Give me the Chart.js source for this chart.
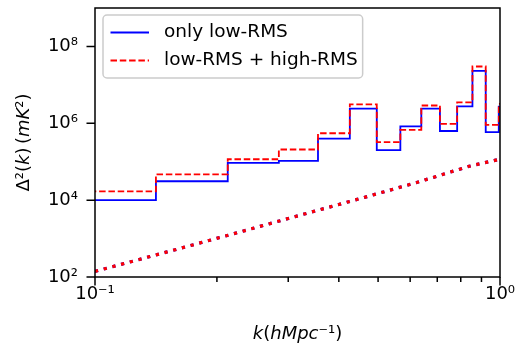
<!DOCTYPE html>
<html>
<head>
<meta charset="utf-8">
<script src="https://cdn.jsdelivr.net/npm/chart.js@4.4.0/dist/chart.umd.min.js"></script>
<style>
    html, body { margin: 0; padding: 0; background: #fff; }
    #chart { display: block; }
</style>
</head>
<body>
<canvas id="chart" width="517" height="347"></canvas>
<script>
// k bin edges (h/Mpc), the last one closes the final bin
const kEdges = [0.0707, 0.1414, 0.2127, 0.2844, 0.3553, 0.4258, 0.4963, 0.5675, 0.6393, 0.7107, 0.7838, 0.855, 0.922, 0.993, 1.064];
// power spectrum per bin (mK^2)
const onlyLowRms = [1.0e4, 3.1e4, 9.3e4, 1.05e5, 4.0e5, 2.4e6, 2.0e5, 8.3e5, 2.4e6, 6.3e5, 2.76e6, 2.3e7, 5.9e5, 2.7e6];
const lowPlusHighRms = [1.7e4, 4.7e4, 1.16e5, 2.08e5, 5.5e5, 3.1e6, 3.25e5, 6.7e5, 2.9e6, 9.6e5, 3.5e6, 3.0e7, 9.1e5, 3.2e6];
// noise level curves (dotted)
const kNoise = [0.1, 0.15, 0.217, 0.3, 0.46, 0.623, 0.839, 0.985];
const noiseLowRms = [140, 443, 1285, 3330, 1.16e4, 2.88e4, 7.6e4, 1.12e5];
const noiseLowPlusHighRms = [140, 443, 1285, 3330, 1.16e4, 2.88e4, 7.6e4, 1.12e5];

const xMajorTicks = [0.1, 1];
const xMinorTicks = [0.2, 0.3, 0.4, 0.5, 0.6, 0.7, 0.8, 0.9];
const yMajorTicks = [1e2, 1e4, 1e6, 1e8];
const legendLabels = ['only low-RMS', 'low-RMS + high-RMS'];

const FONT = '"DejaVu Sans", sans-serif';
const SUP = { '0': '\u2070', '1': '\u00b9', '2': '\u00b2', '3': '\u00b3', '4': '\u2074', '5': '\u2075', '6': '\u2076', '7': '\u2077', '8': '\u2078', '9': '\u2079', '-': '\u207b' };

const powerLabel = (value) => {
    const exp = Math.round(Math.log10(value)).toString();
    return '10' + exp.split('').map((c) => SUP[c]).join('');
};

const stepPoints = (values) => kEdges.map((k, i) => ({ x: k, y: values[Math.min(i, values.length - 1)] }));
const curvePoints = (values) => kNoise.map((k, i) => ({ x: k, y: values[i] }));

// fixed axis sizes, no extra label padding so the plot box lands where it should
const fixSize = (prop, size) => (scale) => {
    scale[prop] = size;
    scale.paddingTop = 0;
    scale.paddingBottom = 0;
    scale.paddingLeft = 0;
    scale.paddingRight = 0;
};

// draws a label made of plain / italic pieces, centred on (x, y)
const drawRich = (ctx, pieces, x, y, rotate) => {
    ctx.save();
    ctx.translate(x, y);
    if (rotate) ctx.rotate(-Math.PI / 2);
    ctx.textBaseline = 'middle';
    ctx.textAlign = 'left';
    ctx.fillStyle = '#000';
    let total = 0;
    pieces.forEach((p) => {
        ctx.font = (p[1] ? 'italic ' : '') + '18px ' + FONT;
        total += ctx.measureText(p[0]).width;
    });
    let cx = -total / 2;
    pieces.forEach((p) => {
        ctx.font = (p[1] ? 'italic ' : '') + '18px ' + FONT;
        ctx.fillText(p[0], cx, 0);
        cx += ctx.measureText(p[0]).width;
    });
    ctx.restore();
};

const roundRect = (ctx, x, y, w, h, r) => {
    ctx.beginPath();
    ctx.moveTo(x + r, y);
    ctx.arcTo(x + w, y, x + w, y + h, r);
    ctx.arcTo(x + w, y + h, x, y + h, r);
    ctx.arcTo(x, y + h, x, y, r);
    ctx.arcTo(x, y, x + w, y, r);
    ctx.closePath();
};

const decorations = {
    id: 'decorations',
    afterDatasetsDraw(chart) {
        const { ctx, chartArea: area, scales } = chart;
        const xs = scales.x, ys = scales.y;
        ctx.save();

        // ticks, pointing outwards
        ctx.strokeStyle = '#000';
        ctx.lineWidth = 1.5;
        ctx.beginPath();
        xMajorTicks.forEach((v) => {
            const px = xs.getPixelForValue(v);
            ctx.moveTo(px, area.bottom);
            ctx.lineTo(px, area.bottom + 8.5);
        });
        xMinorTicks.forEach((v) => {
            const px = xs.getPixelForValue(v);
            ctx.moveTo(px, area.bottom);
            ctx.lineTo(px, area.bottom + 5);
        });
        yMajorTicks.forEach((v) => {
            const py = ys.getPixelForValue(v);
            ctx.moveTo(area.left - 8.5, py);
            ctx.lineTo(area.left, py);
        });
        ctx.stroke();

        // frame
        ctx.strokeRect(area.left, area.top, area.right - area.left, area.bottom - area.top);

        // legend
        ctx.font = '18.5px ' + FONT;
        const textW = Math.max(...legendLabels.map((t) => ctx.measureText(t).width));
        const lx = area.left + 8, ly = area.top + 7;
        const lw = 61 + textW + 5, lh = 63;
        roundRect(ctx, lx, ly, lw, lh, 4);
        ctx.fillStyle = 'rgba(255,255,255,0.8)';
        ctx.fill();
        ctx.strokeStyle = '#cccccc';
        ctx.lineWidth = 1.5;
        ctx.stroke();

        const rows = [
            { y: ly + 17.5, color: '#0000ff', dash: [] },
            { y: ly + 45.5, color: '#ff0000', dash: [6.5, 2.8] }
        ];
        rows.forEach((row, i) => {
            ctx.beginPath();
            ctx.setLineDash(row.dash);
            ctx.strokeStyle = row.color;
            ctx.lineWidth = 1.8;
            ctx.moveTo(lx + 7.5, row.y);
            ctx.lineTo(lx + 46, row.y);
            ctx.stroke();
            ctx.setLineDash([]);
            ctx.fillStyle = '#000';
            ctx.textBaseline = 'middle';
            ctx.textAlign = 'left';
            ctx.fillText(legendLabels[i], lx + 61, row.y);
        });

        // axis titles
        drawRich(ctx, [['\u0394\u00b2(', false], ['k', true], [')\u2009(', false], ['mK', true], ['\u00b2)', false]],
            24, (area.top + area.bottom) / 2, true);
        drawRich(ctx, [['k', true], ['(', false], ['hMpc', true], ['\u207b\u00b9)', false]],
            (area.left + area.right) / 2, 334, false);

        ctx.restore();
    }
};

const config = {
    type: 'line',
    data: {
        datasets: [
            {
                label: legendLabels[0],
                data: stepPoints(onlyLowRms),
                borderColor: '#0000ff',
                borderWidth: 1.8,
                stepped: 'before',
                pointRadius: 0,
                fill: false,
                order: 3
            },
            {
                label: legendLabels[1],
                data: stepPoints(lowPlusHighRms),
                borderColor: '#ff0000',
                borderWidth: 1.8,
                borderDash: [6.5, 2.8],
                stepped: 'before',
                pointRadius: 0,
                fill: false,
                order: 2
            },
            {
                label: 'noise low-RMS',
                data: curvePoints(noiseLowRms),
                borderColor: '#0000ff',
                borderWidth: 3.2,
                borderDash: [3.2, 5.8],
                pointRadius: 0,
                fill: false,
                order: 1
            },
            {
                label: 'noise low-RMS + high-RMS',
                data: curvePoints(noiseLowPlusHighRms),
                borderColor: '#ff0000',
                borderWidth: 3.2,
                borderDash: [3.2, 5.8],
                pointRadius: 0,
                fill: false,
                order: 0
            }
        ]
    },
    options: {
        responsive: false,
        animation: false,
        devicePixelRatio: 1,
        layout: { padding: { top: 8, right: 17, left: 0, bottom: 0 } },
        plugins: {
            legend: { display: false },
            tooltip: { enabled: false }
        },
        scales: {
            x: {
                type: 'logarithmic',
                min: 0.1,
                max: 1,
                afterBuildTicks: (scale) => { scale.ticks = xMajorTicks.map((v) => ({ value: v })); },
                afterFit: fixSize('height', 70),
                grid: { display: false, drawTicks: false },
                border: { display: false },
                ticks: {
                    callback: (value) => powerLabel(value),
                    font: { family: FONT, size: 18 },
                    color: '#000',
                    padding: 7,
                    maxRotation: 0,
                    autoSkip: false
                }
            },
            y: {
                type: 'logarithmic',
                min: 1e2,
                max: 1e9,
                afterBuildTicks: (scale) => { scale.ticks = yMajorTicks.map((v) => ({ value: v })); },
                afterFit: fixSize('width', 95),
                grid: { display: false, drawTicks: false },
                border: { display: false },
                ticks: {
                    callback: (value) => powerLabel(value),
                    font: { family: FONT, size: 18 },
                    color: '#000',
                    padding: 17,
                    autoSkip: false
                }
            }
        }
    },
    plugins: [decorations]
};

const myChart = new Chart(document.getElementById('chart'), config);
</script>
</body>
</html>
